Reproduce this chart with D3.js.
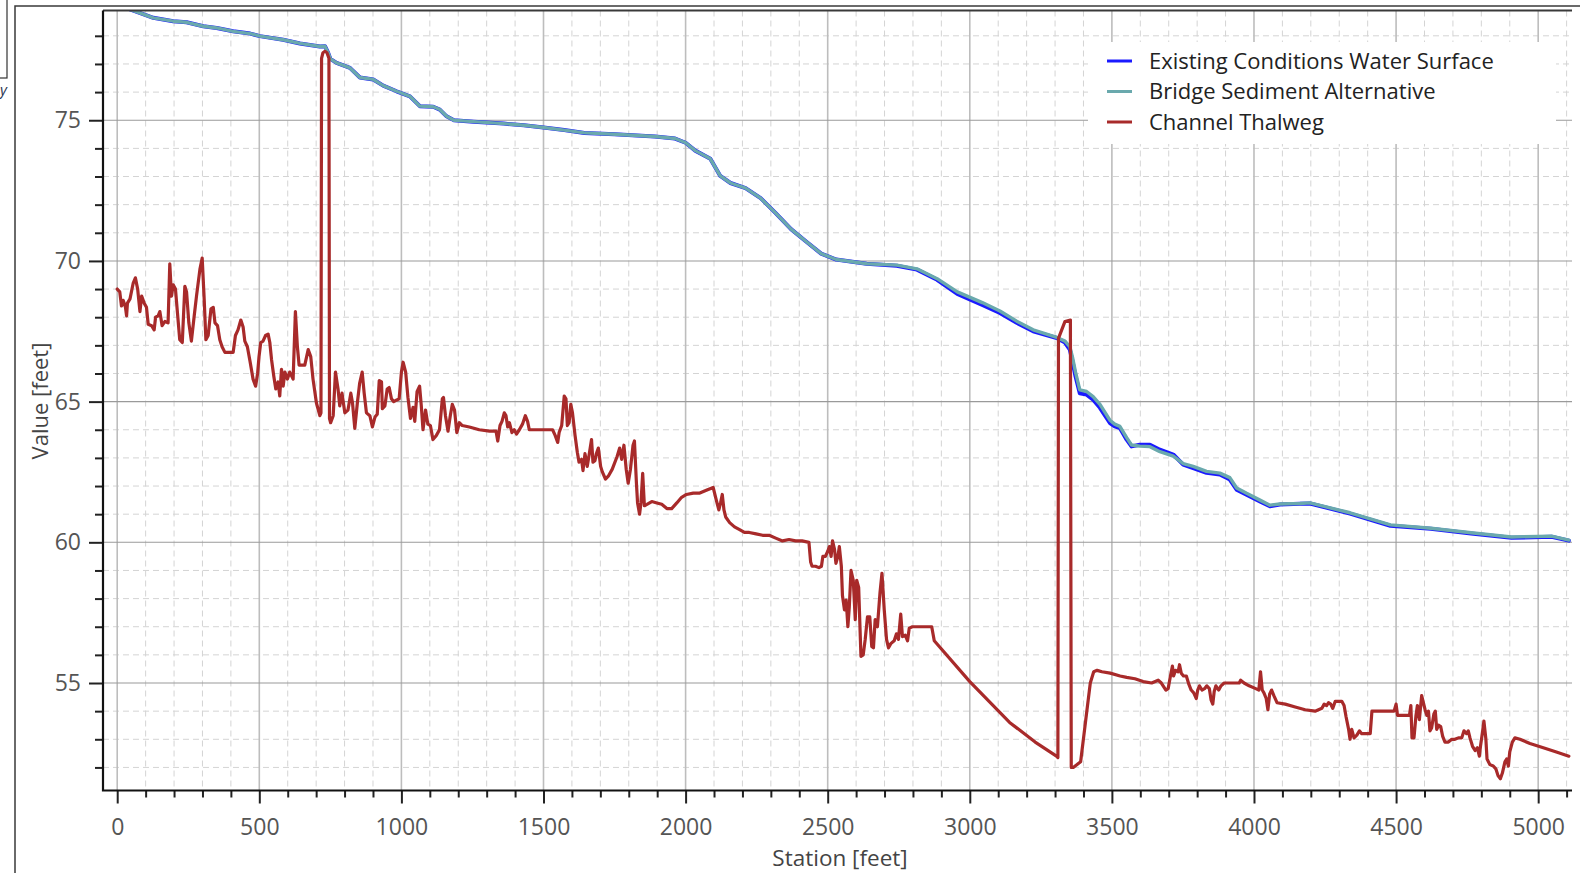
<!DOCTYPE html>
<html>
<head>
<meta charset="utf-8">
<script src="https://cdn.jsdelivr.net/npm/d3@7"></script>
<style>
  body { margin: 0; background: #fff; }
  svg { display: block; font-family: "Open Sans", sans-serif; }
</style>
</head>
<body>
<div class="wrapper"></div>
<script>

// ---- data: [station ft, elevation ft]
var existingWS = [[0,79.1],[62,78.88],[127,78.64],[197,78.52],[244,78.48],[303,78.34],[350,78.28],[408,78.16],[468,78.08],[502,77.99],
	[584,77.86],[643,77.73],[713,77.62],[731,77.63],[742,77.4],[750,77.18],[772,77.04],[819,76.86],[854,76.52],[901,76.45],[936,76.23],
	[983,76.03],[1030,75.85],[1065,75.5],[1112,75.48],[1135,75.38],[1159,75.14],[1185,75.0],[1254,74.95],[1360,74.88],[1431,74.82],
	[1500,74.74],[1573,74.65],[1644,74.55],[1750,74.5],[1892,74.42],[1963,74.35],[2000,74.2],[2034,73.92],[2087,73.63],[2122,73.02],
	[2158,72.77],[2211,72.59],[2264,72.23],[2317,71.7],[2371,71.13],[2424,70.69],[2477,70.26],[2530,70.05],[2637,69.9],[2743,69.83],
	[2814,69.69],[2885,69.33],[2956,68.83],[3044,68.44],[3106,68.15],[3165,67.8],[3223,67.5],[3306,67.26],[3335,67.1],[3352,66.85],
	[3362,66.4],[3372,65.9],[3387,65.3],[3411,65.25],[3434,65.07],[3458,64.78],[3493,64.24],[3510,64.12],[3528,64.06],[3552,63.65],
	[3569,63.41],[3598,63.47],[3634,63.47],[3669,63.29],[3716,63.12],[3751,62.76],[3786,62.64],[3833,62.47],[3880,62.41],[3915,62.23],
	[3939,61.87],[3974,61.69],[4021,61.45],[4056,61.28],[4091,61.34],[4162,61.37],[4197,61.38],[4338,61.02],[4480,60.59],[4622,60.48],
	[4764,60.31],[4906,60.16],[5047,60.2],[5108,60.06]];

var bridgeSed = [[0,79.1],[62,78.88],[127,78.64],[197,78.52],[244,78.48],[303,78.34],[350,78.28],[408,78.16],[468,78.08],[502,77.99],
	[584,77.86],[643,77.73],[713,77.62],[731,77.63],[742,77.4],[750,77.18],[772,77.04],[819,76.86],[854,76.52],[901,76.45],[936,76.23],
	[983,76.03],[1030,75.85],[1065,75.5],[1112,75.48],[1135,75.38],[1159,75.14],[1185,75.0],[1254,74.95],[1360,74.88],[1431,74.82],
	[1500,74.74],[1573,74.65],[1644,74.55],[1750,74.5],[1892,74.42],[1963,74.35],[2000,74.2],[2034,73.92],[2087,73.63],[2122,73.02],
	[2158,72.77],[2211,72.59],[2264,72.23],[2317,71.7],[2371,71.13],[2424,70.69],[2477,70.26],[2530,70.05],[2637,69.9],[2743,69.85],
	[2814,69.72],[2885,69.37],[2956,68.9],[3044,68.52],[3106,68.22],[3165,67.86],[3223,67.55],[3306,67.28],[3335,67.15],[3352,66.95],
	[3362,66.55],[3372,66.05],[3387,65.42],[3411,65.36],[3434,65.18],[3458,64.9],[3493,64.34],[3510,64.2],[3528,64.12],[3552,63.72],
	[3569,63.46],[3598,63.42],[3634,63.4],[3669,63.22],[3716,63.06],[3751,62.8],[3786,62.7],[3833,62.52],[3880,62.46],[3915,62.3],
	[3939,61.93],[3974,61.74],[4021,61.5],[4056,61.32],[4091,61.36],[4162,61.38],[4197,61.4],[4338,61.05],[4480,60.62],[4622,60.5],
	[4764,60.34],[4906,60.19],[5047,60.22],[5108,60.08]];

var thalweg = [[0,69.0],[9,68.9],[15,68.4],[21,68.6],[29,68.35],[33,68.05],[36,68.5],[45,68.65],[56,69.2],[64,69.4],[72,69.0],[80,68.2],
	[86,68.75],[95,68.5],[103,68.35],[109,67.75],[121,67.7],[130,67.55],[135,68.0],[144,68.05],[150,68.2],[158,67.7],[168,67.85],[179,67.8],
	[185,69.9],[191,68.75],[197,69.15],[205,69.0],[212,68.15],[220,67.2],[229,67.1],[238,69.1],[244,68.9],[252,67.8],[261,67.15],[271,68.05],
	[279,68.75],[291,69.7],[299,70.1],[306,68.65],[312,67.2],[320,67.35],[330,68.3],[338,68.35],[344,67.8],[353,67.7],[361,67.2],[369,66.95],
	[379,66.75],[393,66.75],[408,66.75],[416,67.35],[425,67.55],[435,67.9],[443,67.65],[449,67.15],[458,66.95],[467,66.45],[478,65.8],
	[487,65.55],[494,66.0],[499,66.6],[505,67.1],[513,67.15],[522,67.35],[531,67.4],[537,67.1],[543,66.5],[551,65.9],[558,65.45],[566,65.7],
	[572,65.2],[578,66.15],[584,65.55],[590,66.05],[599,65.8],[607,66.05],[619,65.8],[627,68.2],[634,66.95],[640,66.3],[648,66.3],[660,66.3],
	[672,66.85],[681,66.6],[689,65.8],[701,64.95],[713,64.5],[717,64.6],[719,77.2],[724,77.4],[731,77.45],[738,77.4],[745,77.2],[747,64.4],
	[751,64.25],[760,64.5],[768,66.05],[777,65.45],[783,64.85],[791,65.3],[801,64.6],[812,64.7],[822,65.3],[828,64.95],[836,64.05],[845,64.95],
	[853,65.65],[862,66.05],[869,65.3],[877,64.6],[889,64.5],[898,64.1],[907,64.45],[915,64.55],[922,65.75],[930,65.7],[933,64.75],[942,64.85],
	[950,65.45],[957,65.5],[965,65.1],[973,65.0],[982,65.05],[992,65.1],[1000,66.05],[1006,66.4],[1015,66.05],[1023,65.15],[1032,64.4],
	[1041,64.8],[1047,64.3],[1055,65.35],[1064,65.55],[1070,64.85],[1076,64.0],[1085,64.7],[1093,64.2],[1102,64.15],[1111,63.65],[1123,63.8],
	[1134,64.0],[1144,65.1],[1148,65.15],[1155,64.5],[1164,63.95],[1172,64.5],[1179,64.9],[1187,64.7],[1195,63.9],[1204,64.25],[1214,64.15],
	[1239,64.1],[1274,64.0],[1310,63.95],[1333,63.95],[1339,63.6],[1347,64.15],[1354,64.3],[1362,64.6],[1368,64.5],[1374,64.1],[1380,64.25],
	[1389,63.9],[1397,64.0],[1405,63.85],[1415,64.0],[1426,64.2],[1436,64.5],[1444,64.3],[1450,64.0],[1497,64.0],[1532,64.0],[1541,63.8],
	[1550,63.55],[1555,63.9],[1564,64.15],[1573,65.2],[1579,65.1],[1584,64.15],[1590,64.25],[1596,64.9],[1602,64.6],[1611,63.8],[1619,63.2],
	[1625,62.85],[1634,62.95],[1639,62.55],[1646,63.15],[1654,62.7],[1662,63.2],[1669,63.65],[1674,62.85],[1681,62.9],[1686,63.15],[1693,63.35],
	[1701,62.7],[1707,62.5],[1718,62.25],[1728,62.35],[1742,62.6],[1759,63.05],[1768,63.35],[1775,62.95],[1783,63.45],[1791,62.6],[1798,62.1],
	[1806,62.6],[1815,63.45],[1820,63.6],[1827,62.1],[1831,61.4],[1838,61.0],[1843,61.4],[1849,62.45],[1855,61.3],[1864,61.35],[1881,61.45],
	[1899,61.4],[1916,61.35],[1934,61.2],[1951,61.2],[1969,61.4],[1986,61.6],[2003,61.7],[2027,61.75],[2050,61.75],[2073,61.85],[2097,61.95],
	[2108,61.5],[2117,61.15],[2123,61.4],[2129,61.7],[2135,61.15],[2141,60.9],[2155,60.7],[2172,60.55],[2190,60.45],[2207,60.35],[2224,60.35],
	[2248,60.3],[2271,60.25],[2294,60.25],[2317,60.15],[2341,60.05],[2364,60.1],[2387,60.05],[2410,60.05],[2434,60.0],[2440,59.3],[2445,59.15],
	[2457,59.15],[2469,59.1],[2478,59.15],[2483,59.5],[2492,59.5],[2501,59.7],[2506,59.85],[2512,59.5],[2517,60.05],[2524,59.75],[2529,59.25],
	[2536,59.5],[2541,59.85],[2548,59.15],[2552,58.1],[2559,57.6],[2565,57.95],[2571,57.0],[2576,57.7],[2582,59.0],[2590,58.65],[2597,57.25],
	[2602,58.65],[2609,58.4],[2617,55.95],[2625,56.0],[2632,56.55],[2640,57.35],[2648,57.35],[2655,56.3],[2661,56.25],[2667,57.25],[2675,57.0],
	[2684,58.2],[2691,58.9],[2699,57.6],[2707,56.55],[2714,56.25],[2722,56.4],[2734,56.5],[2742,56.75],[2749,56.55],[2757,57.45],[2763,56.65],
	[2773,56.7],[2781,56.5],[2787,56.95],[2798,57.0],[2834,57.0],[2866,57.0],[2875,56.5],[3000,55.05],[3140,53.6],[3230,52.9],[3305,52.4],
	[3310,52.35],[3312,67.25],[3335,67.85],[3354,67.9],[3357,52.0],[3364,52.0],[3390,52.2],[3407,53.6],
	[3424,55.0],[3436,55.4],[3448,55.45],[3465,55.4],[3494,55.35],[3529,55.25],[3552,55.2],[3581,55.15],[3610,55.05],[3640,55.0],[3663,55.1],
	[3674,55.0],[3690,54.75],[3698,54.8],[3706,55.25],[3713,55.6],[3717,55.25],[3724,55.45],[3733,55.4],[3738,55.65],[3744,55.35],[3752,55.25],
	[3762,55.25],[3771,54.95],[3779,54.75],[3788,54.65],[3797,54.45],[3802,54.75],[3808,54.9],[3817,54.75],[3826,54.8],[3834,54.9],[3843,54.8],
	[3849,54.4],[3855,54.25],[3860,54.7],[3866,54.9],[3876,54.75],[3884,54.9],[3895,55.0],[3924,55.0],[3948,55.0],[3953,55.1],[3965,55.0],
	[3983,54.9],[4006,54.8],[4017,54.75],[4023,55.4],[4029,54.75],[4035,54.65],[4043,54.45],[4049,54.05],[4055,54.6],[4062,54.75],[4070,54.55],
	[4081,54.3],[4110,54.25],[4145,54.15],[4180,54.05],[4215,54.0],[4239,54.1],[4247,54.25],[4256,54.2],[4262,54.3],[4270,54.25],[4277,54.1],
	[4286,54.35],[4297,54.35],[4309,54.35],[4317,54.2],[4324,53.8],[4333,53.35],[4338,53.0],[4344,53.35],[4352,53.05],[4362,53.15],[4371,53.3],
	[4379,53.2],[4397,53.2],[4409,53.2],[4415,54.0],[4432,54.0],[4467,54.0],[4493,54.0],[4500,54.25],[4505,53.85],[4514,53.85],[4532,53.85],
	[4547,53.85],[4552,54.2],[4556,53.05],[4563,53.05],[4570,53.85],[4575,54.2],[4582,53.7],[4590,54.55],[4596,54.3],[4602,54.05],[4608,53.85],
	[4614,54.0],[4619,53.3],[4625,53.4],[4633,53.9],[4638,54.0],[4643,53.35],[4650,53.5],[4657,53.45],[4664,53.1],[4672,52.9],[4684,52.9],
	[4696,53.0],[4707,53.0],[4719,53.05],[4731,53.05],[4739,53.3],[4748,53.2],[4754,53.3],[4760,53.05],[4769,52.75],[4778,52.6],[4786,52.7],
	[4793,52.4],[4797,52.75],[4804,53.25],[4809,53.65],[4816,53.0],[4820,52.3],[4830,52.1],[4842,52.05],[4851,51.95],[4859,51.7],[4867,51.6],
	[4874,51.8],[4883,52.2],[4889,52.3],[4895,52.05],[4900,52.55],[4909,52.9],[4918,53.05],[4936,53.0],[4971,52.85],[5018,52.7],[5064,52.55],
	[5108,52.4]];

var seriesNames = ["Existing Conditions Water Surface", "Bridge Sediment Alternative", "Channel Thalweg"];
var seriesColors = ["#1a1aff", "#6aa9ad", "#a82a2a"];

var xTicks = [0, 500, 1000, 1500, 2000, 2500, 3000, 3500, 4000, 4500, 5000];
var yTicks = [55, 60, 65, 70, 75];

// ---- layout
var W = 1580, H = 873;
var PL = 103, PT = 10.5, PR = 1572, PB = 790.5;

var svg = d3.select(".wrapper")
	.append("svg")
		.attr("width", W)
		.attr("height", H);

var x = d3.scaleLinear().domain([-50, 5119]).range([PL, PR]);
var y = d3.scaleLinear().domain([51.18, 78.9]).range([PB, PT]);

var xMinor = d3.range(0, 5101, 100).filter(function(d) { return d % 500 !== 0; });
var yMinor = d3.range(52, 79, 1).filter(function(d) { return d % 5 !== 0; });

// outer window frame + clipped dialog bits at top left
svg.append("path")
	.attr("d", "M15," + H + "V6H" + W)
	.attr("fill", "none")
	.attr("stroke", "#3a3a3a")
	.attr("stroke-width", 1.5);

svg.append("rect")
	.attr("x", -2).attr("y", -2).attr("width", 9).attr("height", 80)
	.attr("fill", "#fff").attr("stroke", "#333").attr("stroke-width", 1.2);

svg.append("text")
	.attr("x", 7).attr("y", 95)
	.attr("text-anchor", "end")
	.attr("font-size", 15)
	.attr("font-style", "italic")
	.attr("fill", "#2a3550")
	.text("y");

var plot = svg.append("g").attr("class", "plot");

plot.append("rect")
	.attr("x", PL).attr("y", PT).attr("width", PR - PL).attr("height", PB - PT)
	.attr("fill", "#fff");

// minor grid (dashed)
plot.selectAll(".vminor")
	.data(xMinor)
	.enter().append("line")
		.attr("x1", function(d) { return x(d); })
		.attr("x2", function(d) { return x(d); })
		.attr("y1", PT).attr("y2", PB)
		.attr("stroke", "#d4d4d4")
		.attr("stroke-width", 1)
		.attr("stroke-dasharray", "6,4");

plot.selectAll(".hminor")
	.data(yMinor)
	.enter().append("line")
		.attr("y1", function(d) { return y(d); })
		.attr("y2", function(d) { return y(d); })
		.attr("x1", PL).attr("x2", PR)
		.attr("stroke", "#d4d4d4")
		.attr("stroke-width", 1)
		.attr("stroke-dasharray", "6,4");

// major grid
plot.selectAll(".vmajor")
	.data(xTicks)
	.enter().append("line")
		.attr("x1", function(d) { return x(d); })
		.attr("x2", function(d) { return x(d); })
		.attr("y1", PT).attr("y2", PB)
		.attr("stroke", "#bdbdbd")
		.attr("stroke-width", 1.6);

plot.selectAll(".hmajor")
	.data(yTicks)
	.enter().append("line")
		.attr("y1", function(d) { return y(d); })
		.attr("y2", function(d) { return y(d); })
		.attr("x1", PL).attr("x2", PR)
		.attr("stroke", "#9a9a9a")
		.attr("stroke-width", 1.1);

// series
svg.append("clipPath").attr("id", "clip")
	.append("rect")
		.attr("x", PL).attr("y", PT).attr("width", PR - PL).attr("height", PB - PT);

var line = d3.line()
	.x(function(d) { return x(d[0]); })
	.y(function(d) { return y(d[1]); });

var series = [existingWS, bridgeSed, thalweg];
var widths = [4, 3.4, 3.2];

plot.append("g")
	.attr("clip-path", "url(#clip)")
	.selectAll("path")
	.data(series)
	.enter().append("path")
		.attr("d", line)
		.attr("fill", "none")
		.attr("stroke", function(d, i) { return seriesColors[i]; })
		.attr("stroke-width", function(d, i) { return widths[i]; })
		.attr("stroke-linejoin", "round")
		.attr("stroke-linecap", "round");

// frame
plot.append("line")
	.attr("x1", PL).attr("x2", PR).attr("y1", PT).attr("y2", PT)
	.attr("stroke", "#3a3a3a").attr("stroke-width", 2);

// axes
var xAxis = d3.axisBottom(x).tickValues(xTicks).tickSize(13).tickPadding(15).tickFormat(d3.format("d"));
var xAxisMinor = d3.axisBottom(x).tickValues(xMinor).tickSize(7).tickFormat("");
var yAxis = d3.axisLeft(y).tickValues(yTicks).tickSize(14).tickPadding(8);
var yAxisMinor = d3.axisLeft(y).tickValues(yMinor).tickSize(8).tickFormat("");

function styleAxis(g) {
	g.select(".domain").remove();
	g.selectAll(".tick line").attr("stroke", "#222").attr("stroke-width", 2);
	g.selectAll(".tick text")
		.attr("fill", "#555")
		.attr("font-size", 23)
		.attr("font-family", "Open Sans, sans-serif");
}

svg.append("g").attr("transform", "translate(0," + PB + ")").call(xAxisMinor).call(styleAxis);
svg.append("g").attr("transform", "translate(0," + PB + ")").call(xAxis).call(styleAxis);
svg.append("g").attr("transform", "translate(" + PL + ",0)").call(yAxisMinor).call(styleAxis);
svg.append("g").attr("transform", "translate(" + PL + ",0)").call(yAxis).call(styleAxis);

svg.append("path")
	.attr("d", "M" + PL + "," + PT + "V" + PB + "H" + PR)
	.attr("fill", "none")
	.attr("stroke", "#111")
	.attr("stroke-width", 2.2);

// axis titles
svg.append("text")
	.attr("x", 840).attr("y", 866)
	.attr("text-anchor", "middle")
	.attr("font-size", 22.5)
	.attr("fill", "#444")
	.text("Station [feet]");

svg.append("text")
	.attr("transform", "translate(48,401) rotate(-90)")
	.attr("text-anchor", "middle")
	.attr("font-size", 22)
	.attr("fill", "#444")
	.text("Value [feet]");

// legend
var legend = svg.append("g").attr("class", "legend");

legend.append("rect")
	.attr("x", 1088).attr("y", 42).attr("width", 468).attr("height", 102)
	.attr("fill", "#fff");

var items = legend.selectAll(".item")
	.data(seriesNames)
	.enter().append("g")
		.attr("transform", function(d, i) { return "translate(1107," + (61 + i * 30.5) + ")"; });

items.append("line")
	.attr("x1", 0).attr("x2", 25).attr("y1", 0).attr("y2", 0)
	.attr("stroke", function(d, i) { return seriesColors[i]; })
	.attr("stroke-width", 3);

items.append("text")
	.attr("x", 42).attr("y", 0)
	.attr("dy", "0.35em")
	.attr("font-size", 22)
	.attr("fill", "#222")
	.text(function(d) { return d; });

</script>
</body>
</html>
